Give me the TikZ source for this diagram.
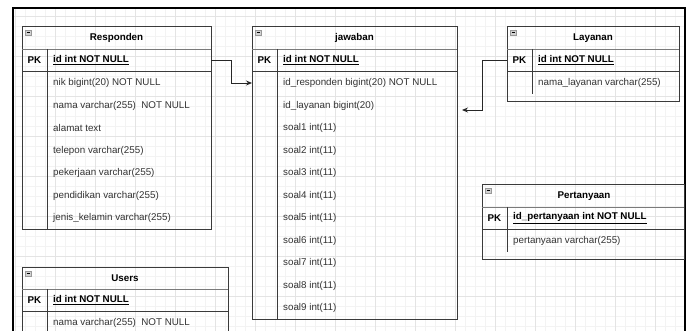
\documentclass[tikz,border=0pt]{standalone}
\usepackage{fontspec}
\setmainfont{Liberation Sans}
\usetikzlibrary{arrows.meta}
\definecolor{gridminor}{HTML}{F3F3F3}
\definecolor{gridmajor}{HTML}{E4E4E4}
\definecolor{edge}{HTML}{3A3A3A}
\definecolor{sep}{HTML}{7A7A7A}
\definecolor{fieldtext}{HTML}{333333}
\begin{document}
\begin{tikzpicture}[x=1pt,y=-1pt,
    tbl/.style={draw=edge,line width=0.9pt,anchor=north west,inner sep=0pt,outer sep=0pt},
    titletext/.style={font=\fontsize{9.8}{11}\selectfont\bfseries,text=black,inner sep=0pt},
    pktext/.style={font=\fontsize{9.8}{11}\selectfont\bfseries,text=black,inner sep=0pt},
    keytext/.style={font=\fontsize{9.8}{11}\selectfont\bfseries,text=black,anchor=west,inner sep=0pt},
    fieldtext/.style={font=\fontsize{9.8}{11}\selectfont,text=fieldtext,anchor=west,inner sep=0pt},
    rule/.style={draw=edge,line width=0.9pt},
    titlerule/.style={draw=sep,line width=0.9pt},
    icon/.style={draw=gray!80,fill=gray!35,line width=0.5pt},
    fk/.style={draw=black!85,line width=0.9pt,-{Stealth[length=6pt,width=5pt]}}]
  \useasboundingbox (0,0) rectangle (689,331);
  % canvas
  \fill[white] (0,0) rectangle (689,331);
  \foreach \x in {15,25,...,685} \draw[gridminor,line width=0.6pt] (\x,8) -- (\x,331);
  \foreach \y in {16,26,...,331} \draw[gridminor,line width=0.6pt] (13,\y) -- (685,\y);
  \foreach \x in {15,55,...,685} \draw[gridmajor,line width=0.6pt] (\x,8) -- (\x,331);
  \foreach \y in {16,56,...,331} \draw[gridmajor,line width=0.6pt] (13,\y) -- (685,\y);
  \draw[black,line width=2pt] (13,331) -- (13,8) -- (685,8) -- (685,331);

  % Responden
  \node[tbl,minimum width=189,minimum height=203] (resp) at (22,26) {};
  \draw[titlerule] (22,49) -- (211,49);
  \draw[rule] (22,71) -- (211,71);
  \draw[rule] (47,49) -- (47,229);
  \draw[icon] (25,30) rectangle (31,35);
  \draw[black,line width=0.6pt] (26.5,32.5) -- (29.5,32.5);
  \node[titletext] (resp-title) at (116.5,38) {Responden};
  \node[pktext] (resp-pk) at (34.5,60.5) {PK};
  \node[keytext] (resp-key) at (53,60.5) {\underline{id int NOT NULL}};
  \node[fieldtext] (resp-r1) at (53,83) {nik bigint(20) NOT NULL};
  \node[fieldtext] (resp-r2) at (53,105.5) {nama varchar(255)~ NOT NULL};
  \node[fieldtext] (resp-r3) at (53,128) {alamat text};
  \node[fieldtext] (resp-r4) at (53,150.5) {telepon varchar(255)};
  \node[fieldtext] (resp-r5) at (53,173) {pekerjaan varchar(255)};
  \node[fieldtext] (resp-r6) at (53,195.5) {pendidikan varchar(255)};
  \node[fieldtext] (resp-r7) at (53,218) {jenis\_kelamin varchar(255)};

  % jawaban
  \node[tbl,minimum width=205,minimum height=293] (jaw) at (252,26) {};
  \draw[titlerule] (252,49) -- (457,49);
  \draw[rule] (252,71) -- (457,71);
  \draw[rule] (277,49) -- (277,319);
  \draw[icon] (255,30) rectangle (261,35);
  \draw[black,line width=0.6pt] (256.5,32.5) -- (259.5,32.5);
  \node[titletext] (jaw-title) at (354.5,38) {jawaban};
  \node[pktext] (jaw-pk) at (264.5,60.5) {PK};
  \node[keytext] (jaw-key) at (283,60.5) {\underline{id int NOT NULL}};
  \node[fieldtext] (jaw-r1) at (283,83) {id\_responden bigint(20) NOT NULL};
  \node[fieldtext] (jaw-r2) at (283,105.5) {id\_layanan bigint(20)};
  \node[fieldtext] (jaw-r3) at (283,128) {soal1 int(11)};
  \node[fieldtext] (jaw-r4) at (283,150.5) {soal2 int(11)};
  \node[fieldtext] (jaw-r5) at (283,173) {soal3 int(11)};
  \node[fieldtext] (jaw-r6) at (283,195.5) {soal4 int(11)};
  \node[fieldtext] (jaw-r7) at (283,218) {soal5 int(11)};
  \node[fieldtext] (jaw-r8) at (283,240.5) {soal6 int(11)};
  \node[fieldtext] (jaw-r9) at (283,263) {soal7 int(11)};
  \node[fieldtext] (jaw-r10) at (283,285.5) {soal8 int(11)};
  \node[fieldtext] (jaw-r11) at (283,308) {soal9 int(11)};

  % Layanan
  \node[tbl,minimum width=172,minimum height=75] (lay) at (507,26) {};
  \draw[titlerule] (507,49) -- (679,49);
  \draw[rule] (507,71) -- (679,71);
  \draw[rule] (532,49) -- (532,94);
  \draw[icon] (510,30) rectangle (516,35);
  \draw[black,line width=0.6pt] (511.5,32.5) -- (514.5,32.5);
  \node[titletext] (lay-title) at (593,38) {Layanan};
  \node[pktext] (lay-pk) at (519.5,60.5) {PK};
  \node[keytext] (lay-key) at (538,60.5) {\underline{id int NOT NULL}};
  \node[fieldtext] (lay-r1) at (538,83) {nama\_layanan varchar(255)};

  % Pertanyaan
  \node[tbl,minimum width=202,minimum height=75] (tanya) at (482,184) {};
  \draw[titlerule] (482,207) -- (684,207);
  \draw[rule] (482,229) -- (684,229);
  \draw[rule] (507,207) -- (507,252);
  \draw[icon] (485,188) rectangle (491,193);
  \draw[black,line width=0.6pt] (486.5,190.5) -- (489.5,190.5);
  \node[titletext] (tanya-title) at (584,196) {Pertanyaan};
  \node[pktext] (tanya-pk) at (494.5,218) {PK};
  \node[keytext] (tanya-key) at (513,218) {\underline{id\_pertanyaan int NOT NULL}};
  \node[fieldtext] (tanya-r1) at (513,240.5) {pertanyaan varchar(255)};

  % Users
  \node[tbl,minimum width=206,minimum height=80] (usr) at (22,267) {};
  \draw[titlerule] (22,289) -- (228,289);
  \draw[rule] (22,311) -- (228,311);
  \draw[rule] (47,289) -- (47,340);
  \draw[icon] (25,271) rectangle (31,276);
  \draw[black,line width=0.6pt] (26.5,273.5) -- (29.5,273.5);
  \node[titletext] (usr-title) at (125,278) {Users};
  \node[pktext] (usr-pk) at (34.5,300) {PK};
  \node[keytext] (usr-key) at (53,300) {\underline{id int NOT NULL}};
  \node[fieldtext] (usr-r1) at (53,322.5) {nama varchar(255)~ NOT NULL};

  % relations
  \begin{scope}
    \draw[fk] (resp.east |- resp-key) -- ++(20,0) |- (jaw.west |- jaw-r1);
    \draw[fk] (lay.west |- lay-key) -- ++(-25,0) |- ([xshift=5pt,yshift=-4.5pt]jaw.east |- jaw-r2);
  \end{scope}
\end{tikzpicture}
\end{document}
